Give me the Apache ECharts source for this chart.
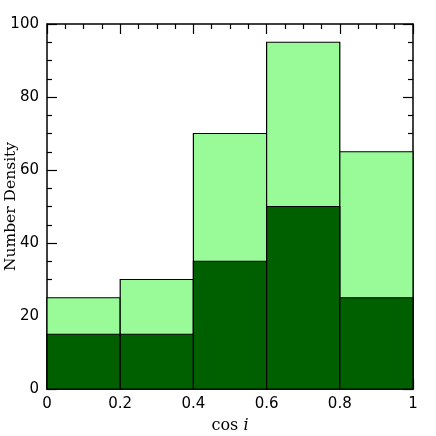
<!DOCTYPE html>
<html>
<head>
<meta charset="utf-8">
<script src="https://cdn.jsdelivr.net/npm/echarts@6/dist/echarts.min.js"></script>
<style>
  html, body { margin: 0; padding: 0; background: #fff; }
  #chart { width: 436px; height: 436px; }
</style>
</head>
<body>
<div id="chart"></div>
<script>
// bin edges in cos i
const binLeft = [0, 0.2, 0.4, 0.6, 0.8]
const binWidth = 0.2
// light green (all) and dark green (subset) histograms
const allCounts = [25, 30, 70, 95, 65]
const subCounts = [15, 15, 35, 50, 25]

const xTicks = [0, 0.2, 0.4, 0.6, 0.8, 1]
const yTicks = [0, 20, 40, 60, 80, 100]

const chart = echarts.init(document.getElementById('chart'), null, { renderer: 'canvas' })

const histData = (counts) => binLeft.map((x, i) => [x, x + binWidth, counts[i]])

const renderBin = (color) => (params, api) => {
  const p0 = api.coord([api.value(0), 0])
  const p1 = api.coord([api.value(1), api.value(2)])
  return {
    type: 'rect',
    shape: { x: p0[0], y: p1[1], width: p1[0] - p0[0], height: p0[1] - p1[1] },
    style: { fill: color, stroke: '#000', lineWidth: 1.2 }
  }
}

const axisBase = {
  axisLine: { show: true, onZero: false, lineStyle: { color: '#000', width: 1.5 } },
  axisTick: { show: true, inside: true, length: 10, lineStyle: { color: '#000', width: 1.2 } },
  minorTick: { show: true, splitNumber: 4, length: 5, lineStyle: { color: '#000', width: 1.2 } },
  splitLine: { show: false }
}

const labelStyle = { fontFamily: 'DejaVu Sans', fontSize: 15, color: '#000' }

const option = {
  animation: false,
  backgroundColor: '#fff',
  grid: { left: 47, right: 23, top: 24, bottom: 47, containLabel: false, outerBoundsMode: 'none' },
  xAxis: [
    Object.assign({
      type: 'value', min: xTicks[0], max: xTicks[xTicks.length - 1], interval: 0.2,
      position: 'bottom',
      name: '{n|cos }{i|i}',
      nameLocation: 'middle',
      nameGap: 29,
      nameMoveOverlap: false,
      nameTextStyle: {
        verticalAlign: 'top',
        rich: {
          n: { fontFamily: 'DejaVu Serif', fontSize: 16, color: '#000' },
          i: { fontFamily: 'DejaVu Serif', fontStyle: 'italic', fontSize: 16, color: '#000' }
        }
      },
      axisLabel: Object.assign({ margin: 8, formatter: (v) => String(+v.toFixed(1)) }, labelStyle)
    }, axisBase),
    Object.assign({
      type: 'value', min: 0, max: 1, interval: 0.2, position: 'top',
      axisLabel: { show: false }
    }, axisBase)
  ],
  yAxis: [
    Object.assign({
      type: 'value', min: yTicks[0], max: yTicks[yTicks.length - 1], interval: 20,
      position: 'left',
      name: 'Number Density',
      nameLocation: 'middle',
      nameGap: 28,
      nameMoveOverlap: false,
      nameRotate: 90,
      nameTextStyle: { fontFamily: 'DejaVu Serif', fontSize: 15.5, color: '#000', verticalAlign: 'bottom' },
      axisLabel: Object.assign({ margin: 8 }, labelStyle)
    }, axisBase),
    Object.assign({
      type: 'value', min: 0, max: 100, interval: 20, position: 'right',
      axisLabel: { show: false }
    }, axisBase)
  ],
  series: [
    {
      type: 'custom', name: 'all', xAxisIndex: 0, yAxisIndex: 0,
      renderItem: renderBin('#98fb98'),
      encode: { x: [0, 1], y: 2 },
      data: histData(allCounts),
      z: 1
    },
    {
      type: 'custom', name: 'sub', xAxisIndex: 0, yAxisIndex: 0,
      renderItem: renderBin('#006000'),
      encode: { x: [0, 1], y: 2 },
      data: histData(subCounts),
      z: 2
    }
  ]
}

chart.setOption(option)
</script>
</body>
</html>
